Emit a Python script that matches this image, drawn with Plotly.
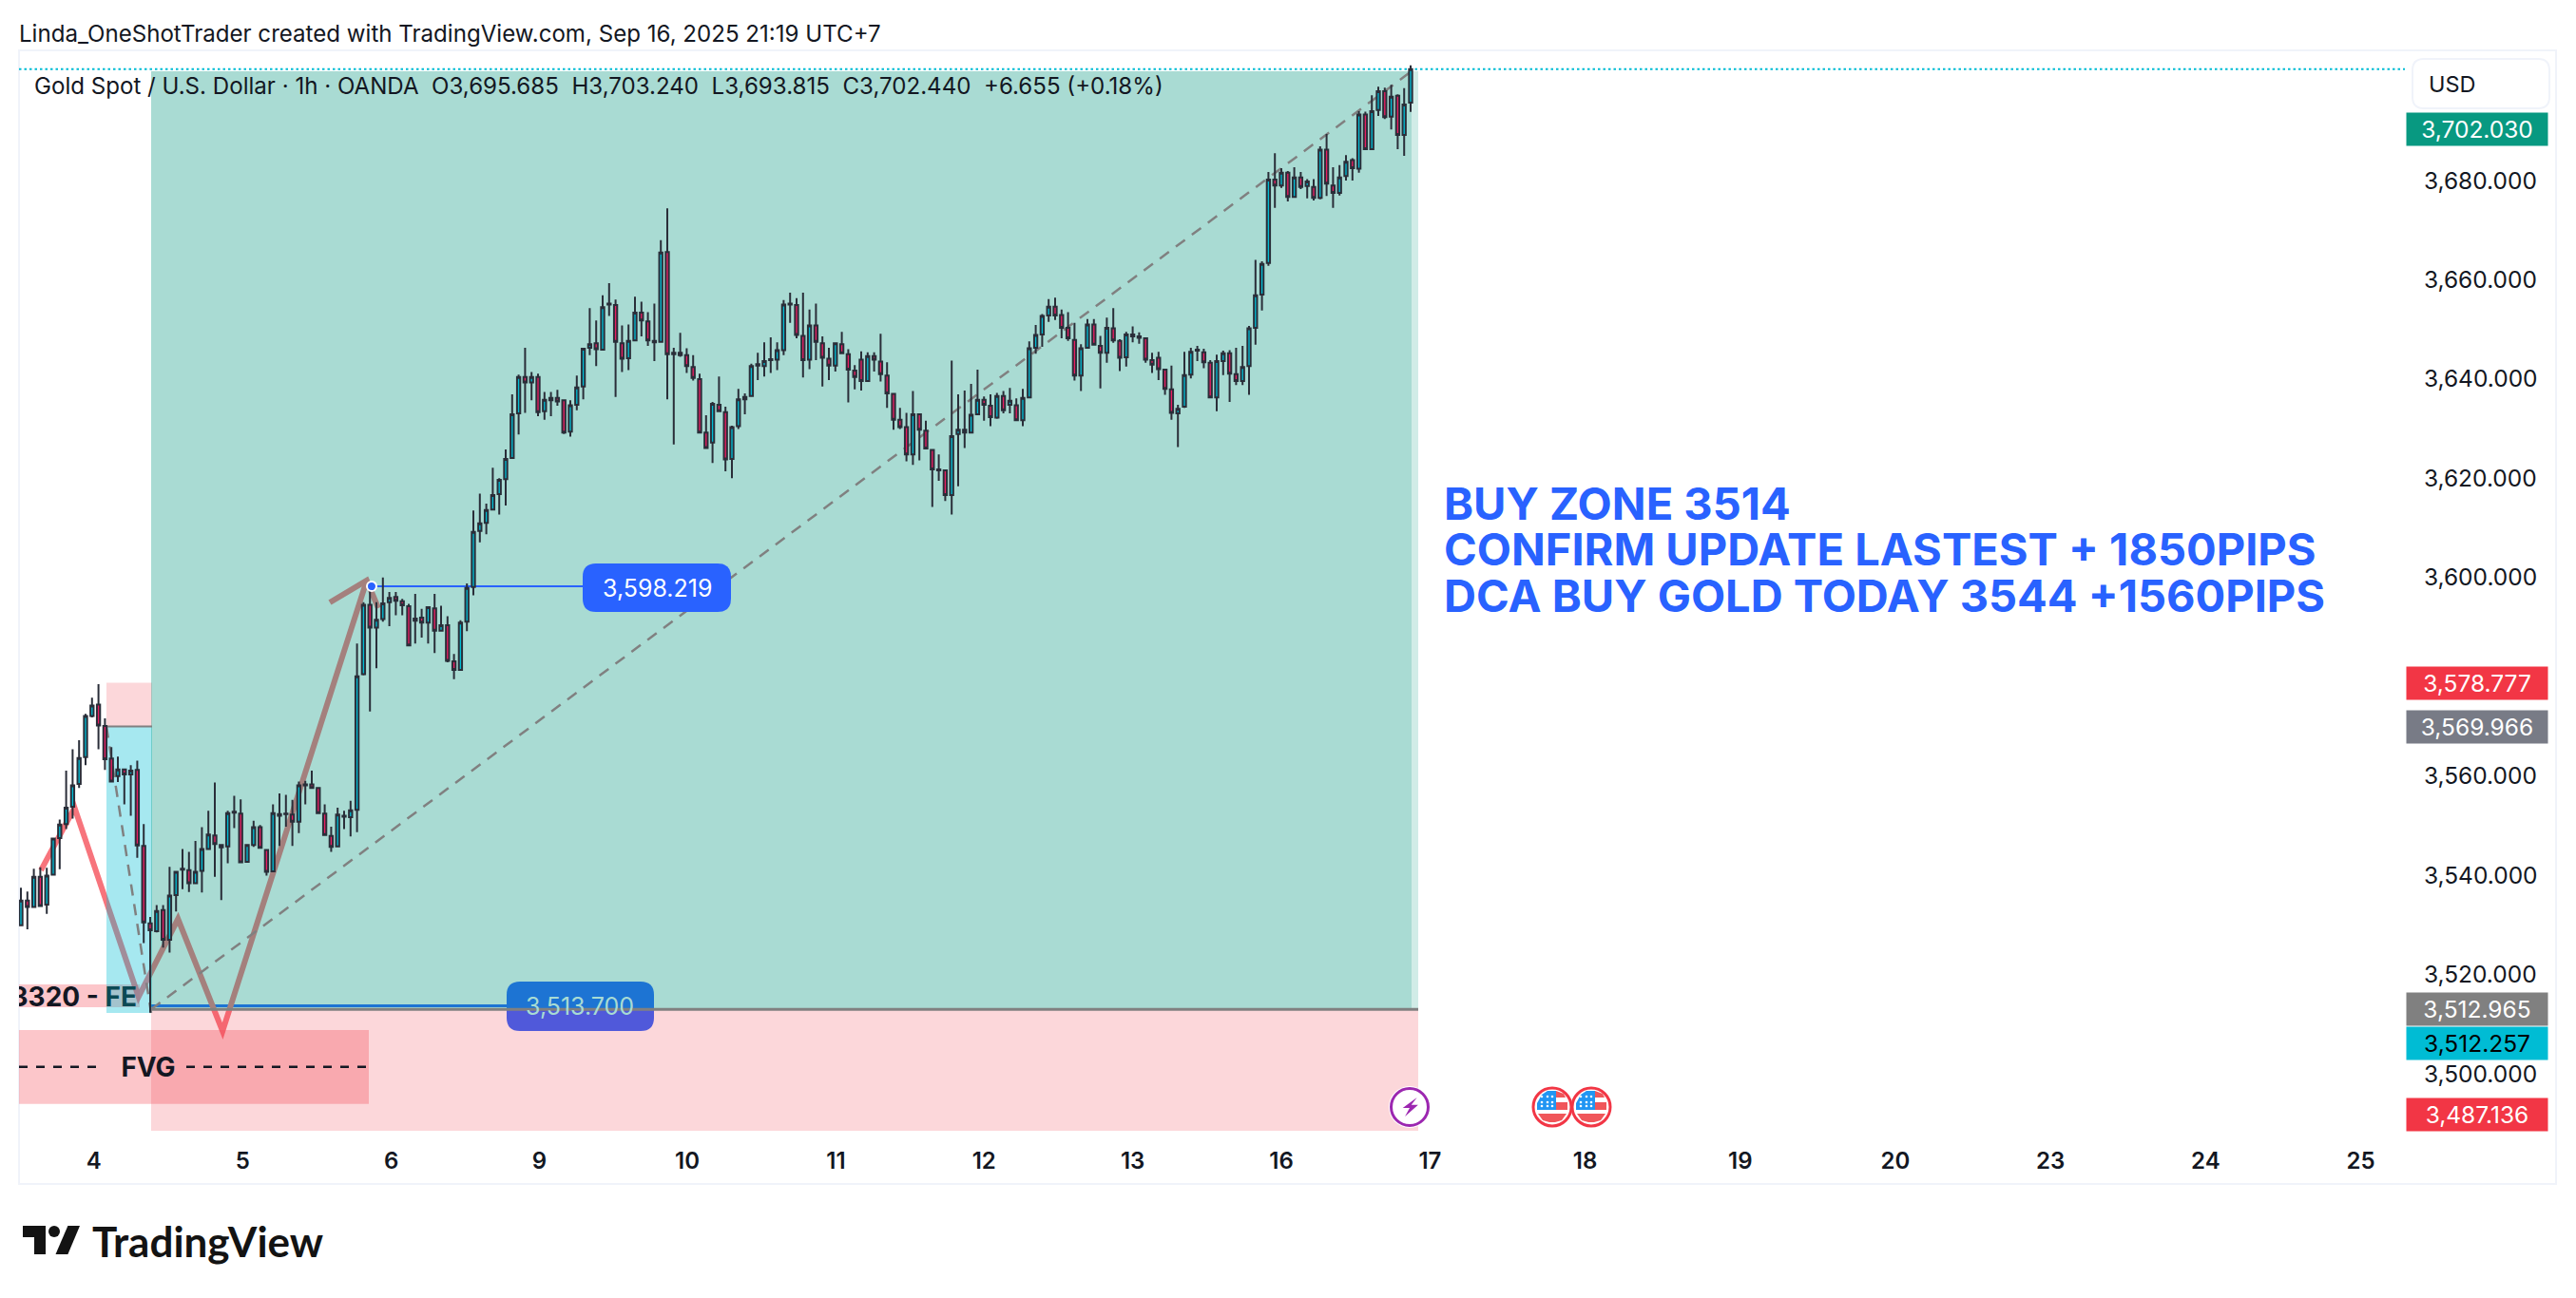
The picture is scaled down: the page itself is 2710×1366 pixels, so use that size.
import plotly.graph_objects as go

# hourly candles, Sep 4 to Sep 16
opens = [3529.9,3534.9,3533.6,3539.7,3534.1,3540.1,3547.5,3550.3,3553.8,3558.4,3563.8,3572.1,3574.4,3570.1,3563.5,3560,3561.3,3560.3,3561.2,3545.9,
3530.3,3528.7,3533,3527,3536,3541.1,3541,3538.4,3540.9,3545.3,3548,3546.1,3545.8,3552.6,3552.4,3542.7,3546.1,3549.7,3545.1,3540.8,
3552.3,3552.3,3552.2,3550.8,3558.1,3558.3,3557.6,3552.4,3547.9,3545.8,3551.8,3551.7,3553.2,3580.5,3594.5,3589.9,3591.6,3595,3596.1,3595.2,
3594.2,3591.3,3591.9,3590.9,3593.8,3589.3,3590.4,3583.1,3581.4,3591.1,3598.1,3609.4,3611,3613.7,3616.8,3619.8,3624.1,3633.1,3640.4,3639.3,
3640.4,3633.5,3635.7,3636.2,3635.7,3629.4,3634.8,3638.5,3646.3,3647.2,3645.9,3655,3654.9,3647.2,3644.2,3647.8,3653.4,3651.6,3647.4,3647.5,
3665.6,3645.3,3645.3,3644.8,3642.4,3640,3629.2,3627.2,3634.8,3633.3,3623.9,3630.5,3635.9,3636.6,3642.7,3642.6,3643.8,3643.9,3645.8,3655.2,
3654.9,3648.7,3643.9,3650.8,3647.2,3644.1,3642.7,3647,3645,3641.7,3643.9,3639.6,3644.6,3643.5,3640.7,3637,3631.8,3630.3,3624.8,3632.9,
3629.6,3625.7,3621.8,3621.6,3616.6,3628.9,3629.8,3629.2,3632.9,3635.8,3634.6,3632.2,3636.6,3634.8,3634.7,3631.7,3636.3,3646.3,3649,3652.8,
3654.6,3652.9,3650.3,3647.9,3640.7,3646.3,3651,3646.7,3645.3,3650.2,3647.7,3644.4,3649,3648.6,3648.2,3643.8,3644.3,3641.9,3637.9,3633.1,
3634.4,3640.9,3645.7,3645.4,3643.3,3636.3,3643.6,3645.2,3641,3639.6,3642.6,3650.3,3657,3663.4,3680.2,3679,3681.6,3676.7,3680.6,3678.9,
3678.7,3676.5,3686.2,3679,3677.5,3680.9,3684.1,3682.4,3693.3,3686.3,3694.2,3698,3692.9,3697.1,3689.2,3695.685]
highs = [3537.5,3536.7,3541.3,3541.6,3541.5,3547.6,3551.2,3561.1,3565.4,3567.2,3572.5,3575.8,3578.5,3571.6,3565.8,3563.9,3561.4,3562.2,3563.1,3550.3,
3531.6,3534,3534,3541.7,3540.9,3545.3,3544.7,3546.9,3549.7,3553,3558.7,3546.3,3553,3556,3555.3,3546.2,3551,3550.1,3545.3,3554.3,
3556.5,3556.2,3555.2,3558.9,3559,3561.1,3557.8,3554.3,3549.8,3553.6,3553,3555,3586.7,3595,3598.2,3595,3600,3597.1,3597.1,3595.7,
3594.7,3596.7,3593.7,3594.1,3596.7,3594.3,3592.2,3584.6,3591.4,3598.8,3613.5,3616.9,3614.9,3622.1,3620,3625.8,3636.9,3640.9,3646.3,3641.4,
3641.1,3637.4,3637.4,3637.8,3635.9,3635.7,3640.7,3646.3,3654.3,3651.8,3656.9,3659.3,3656,3650.8,3651,3656.6,3655.6,3653.5,3655.2,3668,
3674.4,3646.3,3649.3,3646.2,3644.8,3641.1,3632.7,3635.4,3640.5,3634.4,3630.6,3638,3637.1,3643.1,3645.3,3647.4,3648.4,3647.4,3655.9,3657.4,
3656.3,3657.4,3654,3655.2,3648.6,3646.3,3647.4,3649.5,3646,3642.8,3645.6,3645.4,3645.4,3649.1,3643.4,3637.2,3634.2,3633.2,3637.6,3633.1,
3631.6,3625.9,3624.8,3621.8,3643.7,3636.9,3637.7,3639,3641.9,3636.5,3636.9,3637.2,3637.6,3638.2,3636.1,3638,3647.6,3650.9,3653.1,3656.1,
3656.4,3654,3653.5,3651.3,3647,3652.1,3652.1,3648.7,3652.4,3654.3,3648,3649.5,3650.6,3649.4,3648.4,3645.3,3645.5,3642,3642.7,3634.8,
3645.5,3646.3,3646.7,3646.1,3643.8,3644.9,3645.7,3645.8,3646.3,3646.7,3650.7,3664,3663.7,3681.7,3685.5,3682.5,3681.9,3682.7,3681.7,3680.3,
3680.3,3686.9,3689.4,3682.7,3683.1,3685.1,3684.5,3694,3693.9,3697.2,3698.9,3698.7,3699.3,3697.4,3698.6,3703.24]
lows = [3529.7,3529.1,3533.6,3533.8,3532.2,3540.1,3541.2,3549.3,3551.4,3557.6,3562.2,3571.8,3565.4,3561.2,3558.8,3558.8,3554.3,3552,3543.5,3526.3,
3512.3,3528.5,3525.4,3524.4,3532.7,3537.2,3536.6,3538.3,3536.5,3545.2,3539.7,3535,3542.4,3549.5,3542.5,3542.6,3545.7,3545.4,3539.9,3540.7,
3545.9,3549.8,3545.9,3548.5,3554.3,3557.4,3552.4,3548,3544.7,3545.7,3549.3,3547.8,3548.7,3580.3,3573,3581.7,3591.1,3590.2,3592.4,3592.4,
3586.1,3586.7,3587.9,3586.7,3584.8,3589.2,3582.9,3579.5,3581.2,3589.2,3596.4,3607.1,3608.7,3613.5,3612.7,3614.5,3624,3628.8,3633.2,3635.7,
3632.5,3631.8,3632.5,3634.6,3628.9,3628.4,3633.7,3635.9,3644.8,3642.6,3645.8,3652.7,3636.4,3641.4,3641.8,3647.7,3648.6,3646.7,3643.6,3647.3,
3635.9,3626.8,3644.5,3641.2,3639.7,3629.1,3626,3623.1,3633.3,3621.4,3620,3629.9,3632.9,3636.4,3639.8,3640.5,3641.2,3641.8,3644.8,3651.3,
3648.2,3640.3,3642,3643.8,3638.5,3639.8,3641.5,3645,3635.3,3637.9,3637.7,3639.4,3641.5,3639.5,3634.2,3629.8,3629.9,3623.4,3622.7,3623.6,
3625.8,3614.2,3619.5,3615.4,3612.7,3618.4,3626.1,3629.1,3632.8,3631.6,3630.5,3632,3633.1,3633.1,3631.6,3630.5,3636.2,3645.1,3646.5,3651.5,
3651.9,3648.2,3647.7,3639.7,3637.6,3646.1,3646.8,3638.1,3643.3,3647.3,3641.6,3642.5,3647.4,3647.1,3643.3,3641.2,3639.8,3636.8,3631.8,3626.3,
3634.2,3640.1,3643.6,3642.2,3636.2,3633.5,3640.8,3635.4,3638.8,3638.8,3636.8,3646.9,3653.8,3662.8,3674.5,3678.5,3675.8,3676.6,3678.3,3676.4,
3676,3676.2,3676.9,3674.5,3677,3680,3680,3681.6,3686.2,3686.2,3693,3692.4,3690.3,3686.3,3685,3693.815]
closes = [3534.9,3533.6,3539.7,3533.8,3539.9,3547.4,3550.2,3553.6,3558.1,3563.6,3572.1,3574.2,3570.2,3563.4,3558.9,3561.3,3560.3,3561.1,3546,3530.5,
3528.9,3532.8,3527,3535.9,3540.7,3541.3,3538.4,3540.7,3545.3,3548.2,3546.3,3545.6,3552.5,3552.8,3542.6,3546.1,3549.7,3545.5,3540.7,3552.5,
3552,3552.4,3550.8,3558.1,3558.3,3557.6,3552.5,3548.1,3545.7,3552.2,3552,3553.1,3580.1,3594.5,3589.9,3591.5,3594.8,3595.9,3595.3,3594.4,
3586.3,3591.7,3590.9,3594,3589.3,3590.4,3583.2,3581.4,3590.9,3597.9,3609.2,3610.9,3613.6,3616.6,3619.7,3623.9,3632.9,3640.4,3639.3,3640.4,
3633.3,3635.8,3636.2,3635.5,3629.2,3634.7,3638.3,3646.1,3647,3646,3654.5,3655.2,3647.5,3644.1,3647.7,3653.4,3651.8,3647.8,3647.7,3665.5,
3645,3645,3644.8,3642.6,3640.2,3629.2,3626.1,3635,3633.5,3623.8,3630.3,3635.9,3636.4,3642.6,3643,3643.6,3644,3645.8,3655,3655,
3648.9,3643.8,3650.8,3647.5,3644.3,3642.7,3647.2,3645.2,3641.9,3640.4,3639.6,3644.6,3643.9,3641,3637.1,3631.8,3630.3,3624.8,3632.9,3629.8,
3626,3621.8,3621.6,3616.6,3628.5,3629.8,3629.2,3632.8,3635.8,3634.8,3632.3,3636.6,3633.7,3635.6,3631.7,3636.2,3646.2,3648.9,3652.7,3654.6,
3652.8,3650.3,3648.2,3640.7,3646.2,3651,3646.9,3645.3,3650.3,3647.8,3644.3,3649,3648.6,3648.3,3643.9,3642.9,3642,3638,3633.2,3634,
3640.8,3645.5,3645.9,3643.4,3636.3,3643.6,3645.2,3641.1,3639.6,3642.4,3650.2,3656.9,3663.2,3680.2,3679,3681.6,3676.7,3680.6,3678.7,3679.8,
3676.5,3686.2,3679.4,3677.5,3680.6,3683.8,3682.5,3693.3,3686.3,3694,3698,3692.8,3696.9,3689.2,3695.3,3702.44]

# date labels and the bar slot where each one sits
day_labels = ["4","5","6","9","10","11","12","13","16","17","18","19","20","23","24","25"]
day_slots = [11.3,34.3,57.3,80.2,103.1,126.1,149,172,195,218,242,266,290,314,338,362]
# 3,580 is hidden behind the price tags in the picture
price_ticks = [3500,3520,3540,3560,3600,3620,3640,3660,3680]

# price tags on the right: value, colour, text colour, height they end up at
tag_values = [3702.030,3578.777,3569.966,3512.965,3512.257,3487.136]
tag_colors = ["#089981","#f23645","#787b86","#808080","#00bcd4","#f23645"]
tag_fonts = ["white","white","white","white","black","white"]
tag_levels = [3690.3,3578.777,3569.966,3512.965,3506.1,3491.8]

# drawing tools on the chart
entry_long = 3512.965
target_long = 3702.030
stop_long = 3487.136
entry_short = 3569.966
stop_short = 3578.777
target_short = 3512.257
zigzag_slots = [3.1,8.3,18.2,24.3,31.2,53.5]
zigzag_prices = [3541,3553.6,3515.5,3531.2,3508.6,3599.4]

W, H = 2710, 1366
LEFT, RIGHT, TOP, BOTTOM = 20, 2530, 55, 1190
BAR_W = 6.8
FIRST_BAR = 22
PX_PER_USD = 5.222


def sx(px):
    return (px - FIRST_BAR) / BAR_W


def sy(py):
    return 3680 - (py - 190) / PX_PER_USD


def paper_x(px):
    return (px - LEFT) / (RIGHT - LEFT)


def paper_y(py):
    return (BOTTOM - py) / (BOTTOM - TOP)


def rounded(x0, y0, x1, y1, r, fx, fy):
    # x0,y0 top left in pixels
    p = "M%f,%f L%f,%f Q%f,%f %f,%f L%f,%f Q%f,%f %f,%f L%f,%f Q%f,%f %f,%f L%f,%f Q%f,%f %f,%f Z" % (
        fx(x0+r), fy(y0), fx(x1-r), fy(y0), fx(x1), fy(y0), fx(x1), fy(y0+r),
        fx(x1), fy(y1-r), fx(x1), fy(y1), fx(x1-r), fy(y1), fx(x0+r), fy(y1),
        fx(x0), fy(y1), fx(x0), fy(y1-r), fx(x0), fy(y0+r), fx(x0), fy(y0), fx(x0+r), fy(y0))
    return p


def box(x0, x1, y0, y1, color):
    return dict(type="rect", layer="below", x0=x0, x1=x1, y0=y0, y1=y1, fillcolor=color, line_width=0)


def seg(x0, y0, x1, y1, color, width, dash="solid", layer="below"):
    return dict(type="line", layer=layer, x0=x0, y0=y0, x1=x1, y1=y1, line=dict(color=color, width=width, dash=dash))


slots = list(range(len(opens)))

fig = go.Figure()
fig.add_trace(go.Candlestick(
    x=slots, open=opens, high=highs, low=lows, close=closes,
    increasing=dict(line=dict(color="#2a2e39", width=2), fillcolor="#00bcd4"),
    decreasing=dict(line=dict(color="#2a2e39", width=2), fillcolor="#e91e63"),
    whiskerwidth=0, showlegend=False,
))

TEAL = "rgba(8,153,129,0.35)"
RED = "rgba(242,54,69,0.2)"
BLUE = "#2962ff"
z_path = "M" + " L".join("%f,%f" % (a, b) for a, b in zip(zigzag_slots, zigzag_prices))
head = "M%f,%f L%f,%f L%f,%f" % (sx(347), sy(634), zigzag_slots[-1], zigzag_prices[-1], sx(398), sy(640))

shapes = [
    # label that sits under the position rectangles
    seg(sx(159), 3513.7, sx(534), 3513.7, BLUE, 3),
    dict(type="path", layer="below", path=rounded(533, 1033, 688, 1085, 14, sx, sy), fillcolor=BLUE, line_width=0),
    dict(type="path", layer="below", path=z_path, line=dict(color="#f7747c", width=6)),
    dict(type="path", layer="below", path=head, line=dict(color="#f7747c", width=6)),
    box(sx(LEFT), sx(388), 3493.9, 3508.8, "rgba(247,82,95,0.33)"),
    box(sx(LEFT), sx(147), sy(1060), sy(1036), "rgba(247,82,95,0.33)"),
    box(sx(112), sx(160), entry_short, stop_short, RED),
    box(sx(112), sx(160), target_short, entry_short, "rgba(0,188,212,0.35)"),
    box(sx(159), sx(1485), entry_long, target_long, TEAL),
    box(sx(1485), sx(1492), entry_long, target_long, "rgba(8,153,129,0.19)"),
    box(sx(159), sx(1492), stop_long, entry_long, RED),
    seg(sx(112), entry_short, sx(160), entry_short, "#808080", 2),
    seg(sx(159), entry_long, sx(1492), entry_long, "#808080", 3),
    seg(sx(112), entry_short, sx(159), target_short, "#808080", 2.5, "12px,9px"),
    seg(sx(159), entry_long, sx(1485), target_long, "#808080", 2.5, "12px,9px"),
    seg(sx(LEFT), 3501.4, sx(110), 3501.4, "#131722", 2.5, "9px,9px"),
    seg(sx(196), 3501.4, sx(390), 3501.4, "#131722", 2.5, "9px,9px"),
    # blue price label at the top of the first leg
    seg(sx(391), 3598.219, sx(614), 3598.219, BLUE, 2),
    dict(type="path", layer="below", path=rounded(613, 593, 769, 644, 14, sx, sy), fillcolor=BLUE, line_width=0),
    seg(sx(LEFT), closes[-1], sx(RIGHT), closes[-1], "#00bcd4", 2, "2.5px,3px"),
    # frame and USD box
    dict(type="rect", xref="paper", yref="paper", x0=paper_x(20), x1=paper_x(2689), y0=paper_y(1246), y1=paper_y(53),
         line=dict(color="#f0f3fa", width=2), layer="below"),
    dict(type="path", xref="paper", yref="paper", path=rounded(2538, 62, 2682, 114, 12, paper_x, paper_y),
         line=dict(color="#f0f3fa", width=2), fillcolor="white"),
    # logo
    dict(type="path", xref="paper", yref="paper", fillcolor="#131313", line_width=0,
         path="M%f,%f L%f,%f L%f,%f L%f,%f L%f,%f L%f,%f Z" % (
             paper_x(24), paper_y(1290), paper_x(48), paper_y(1290), paper_x(48), paper_y(1320),
             paper_x(36), paper_y(1320), paper_x(36), paper_y(1302), paper_x(24), paper_y(1302))),
    dict(type="path", xref="paper", yref="paper", fillcolor="#131313", line_width=0,
         path="M%f,%f L%f,%f L%f,%f L%f,%f Z" % (
             paper_x(71.4), paper_y(1290), paper_x(84), paper_y(1290), paper_x(71.4), paper_y(1320), paper_x(58.5), paper_y(1320))),
    dict(type="circle", xref="paper", yref="paper", fillcolor="#131313", line_width=0,
         x0=paper_x(51), x1=paper_x(63), y0=paper_y(1302), y1=paper_y(1290)),
]


def dot(cx, cy, half, y_up=0, fill="white", line=None, x_off=0):
    # small circle sized in pixels around a bar slot and a price
    return dict(type="circle", xref="x", yref="y", xsizemode="pixel", ysizemode="pixel",
                xanchor=cx, yanchor=cy, x0=x_off-half, x1=x_off+half, y0=y_up-half, y1=y_up+half,
                fillcolor=fill, line=line or dict(width=0))


def glyph(cx, cy, pts, fill):
    path = "M" + " L".join("%f,%f" % (a, -b) for a, b in pts) + " Z"
    return dict(type="path", xref="x", yref="y", xsizemode="pixel", ysizemode="pixel",
                xanchor=cx, yanchor=cy, path=path, fillcolor=fill, line_width=0)


shapes.append(dot(sx(391), 3598.219, 5, fill=BLUE, line=dict(color="white", width=2)))
# purple bolt marker
mark_y = sy(1165)
shapes.append(dot(sx(1483), mark_y, 22, fill="white"))
shapes.append(dot(sx(1483), mark_y, 19.5, fill="white", line=dict(color="#9c27b0", width=3)))
shapes.append(glyph(sx(1483), mark_y, [(7.7,-10),(-7.3,1),(0,1),(-5,10),(8.9,-2.3),(1.7,-2.3)], "#9c27b0"))
# two US flag markers
for fx_px in [1633, 1674]:
    c = sx(fx_px)
    shapes.append(dot(c, mark_y, 20, fill="white", line=dict(color="#f23645", width=3)))
    shapes.append(glyph(c, mark_y, [(4,-17),(12,-14),(14,-10),(4,-10)], "#f0565a"))
    shapes.append(glyph(c, mark_y, [(4,-5),(16,-5),(16,3),(4,3)], "#f0565a"))
    shapes.append(glyph(c, mark_y, [(-15,7),(15,7),(10,14),(3,16),(-3,16),(-10,14)], "#f0565a"))
    shapes.append(glyph(c, mark_y, [(-16,-4),(-11,-13),(-5,-17),(4,-17),(4,3),(-16,3)], "#2196f3"))
    for dx in [-11, -5, 0]:
        for dy in [-11, -5, -1]:
            shapes.append(dot(c, mark_y, 1.3, y_up=-dy, x_off=dx))

annotations = []


def label(px, py, text, size, color="#131722", anchor="left", family="Inter", weight=400):
    annotations.append(dict(xref="paper", yref="paper", x=paper_x(px), y=paper_y(py), text=text,
                            showarrow=False, xanchor=anchor, yanchor="middle",
                            font=dict(family=family, size=size, color=color, weight=weight)))


label(18, 35, "Linda_OneShotTrader created with TradingView.com, Sep 16, 2025 21:19 UTC+7", 24.1)
label(34, 90, "Gold Spot / U.S. Dollar · 1h · OANDA  O3,695.685  H3,703.240  L3,693.815  C3,702.440  +6.655 (+0.18%)", 24.1)
label(2553, 88, "USD", 23.5)
label(1517, 529, "BUY ZONE 3514", 47, BLUE, weight=700)
label(1517, 577, "CONFIRM UPDATE LASTEST + 1850PIPS", 47, BLUE, weight=700)
label(1517, 626, "DCA BUY GOLD TODAY 3544 +1560PIPS", 47, BLUE, weight=700)
label(691, 619, "3,598.219", 25, "white", anchor="center")
label(610, 1059, "3,513.700", 25, "#a8dbd3", anchor="center")
label(95, 1306, "TradingView", 44, "#131313", family="Lato", weight=700)

for val, col, fc, lvl in zip(tag_values, tag_colors, tag_fonts, tag_levels):
    annotations.append(dict(xref="paper", yref="y", x=paper_x(2606), y=lvl, text=f"{val:,.3f}", showarrow=False,
                            xanchor="center", yanchor="middle", width=148, height=34, bgcolor=col, borderpad=0,
                            font=dict(family="Inter", size=24.5, color=fc)))

# text that has to be cut by the pane edge
fig.add_trace(go.Scatter(
    x=[sx(144)], y=[sy(1052)], mode="text", textposition="middle left",
    text=["3320 - <span style='color:#0b4a55'>FE</span>"],
    textfont=dict(family="Inter", size=28, color="#131722", weight=700), showlegend=False,
))
fig.add_trace(go.Scatter(
    x=[sx(156)], y=[sy(1126)], mode="text", textposition="middle center", text=["FVG"],
    textfont=dict(family="Inter", size=28, color="#131722", weight=700), showlegend=False,
))

fig.update_layout(
    width=W, height=H,
    margin=dict(l=LEFT, r=W-RIGHT, t=TOP, b=H-BOTTOM, pad=0),
    paper_bgcolor="white", plot_bgcolor="white",
    shapes=shapes, annotations=annotations, showlegend=False, hovermode=False,
    xaxis=dict(range=[sx(LEFT), sx(RIGHT)], rangeslider_visible=False, showgrid=False, zeroline=False,
               tickmode="array", tickvals=day_slots, ticktext=day_labels, ticks="outside", ticklen=10,
               tickcolor="rgba(0,0,0,0)", showline=False,
               tickfont=dict(family="Inter", size=24, color="#131722", weight=600)),
    yaxis=dict(range=[sy(BOTTOM), sy(TOP)], side="right", showgrid=False, zeroline=False,
               tickmode="array", tickvals=price_ticks, ticktext=[f"{p:,.3f}" for p in price_ticks],
               ticks="outside", ticklen=14, tickcolor="rgba(0,0,0,0)", showline=False,
               tickfont=dict(family="Inter", size=24.5, color="#131722")),
)

fig.write_html("out.html", config={"displayModeBar": False}, post_script="document.body.style.margin='0';")
